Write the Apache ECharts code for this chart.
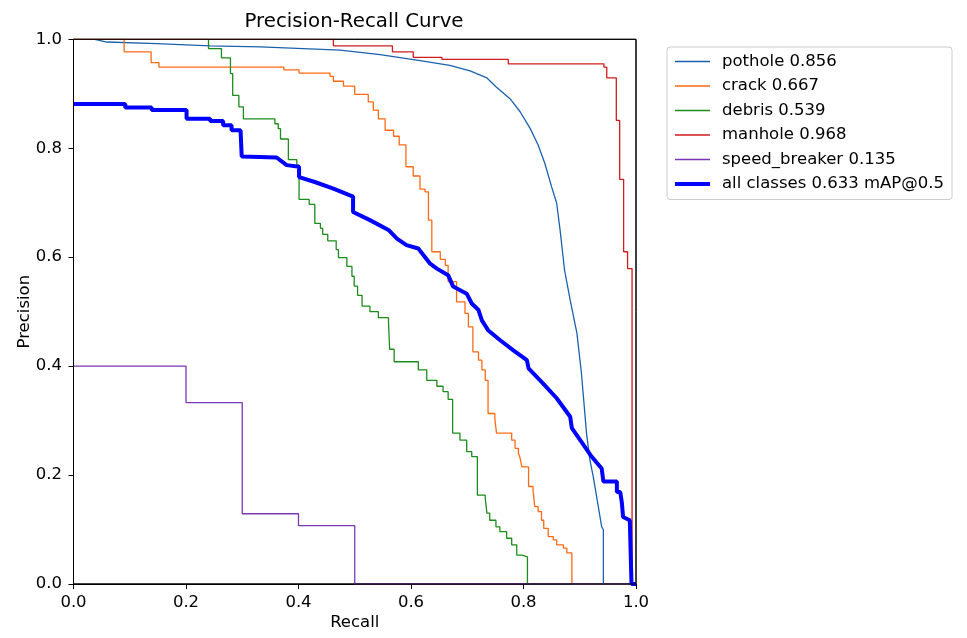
<!DOCTYPE html>
<html>
<head>
<meta charset="utf-8">
<script src="https://cdn.jsdelivr.net/npm/echarts@6/dist/echarts.min.js"></script>
<style>
  html, body { margin: 0; padding: 0; background: #fff; }
  #chart { width: 967px; height: 638px; }
</style>
</head>
<body>
<div id="chart"></div>
<script>
// 各类别的PR曲线 (recall, precision)
var classNames = ["pothole 0.856", "crack 0.667", "debris 0.539", "manhole 0.968", "speed_breaker 0.135", "all classes 0.633 mAP@0.5"];

// pothole 是平滑曲线
var potholeRecall = [0, 0.038, 0.059, 0.148, 0.243, 0.332, 0.474, 0.545, 0.616, 0.669, 0.705, 0.735, 0.752, 0.776, 0.794, 0.812, 0.826, 0.838, 0.850, 0.859, 0.865, 0.873, 0.883, 0.895, 0.903, 0.912, 0.918, 0.924, 0.939, 0.942, 0.942, 1.0];
var potholePrecision = [1, 1, 0.995, 0.992, 0.988, 0.986, 0.980, 0.972, 0.961, 0.952, 0.942, 0.929, 0.912, 0.891, 0.867, 0.836, 0.806, 0.772, 0.729, 0.699, 0.650, 0.576, 0.521, 0.460, 0.387, 0.277, 0.228, 0.197, 0.105, 0.099, 0, 0];

// 以下为阶梯曲线: 每个点 = 该台阶开始的recall和精度
var crackRecall = [0, 0.090, 0.138, 0.152, 0.374, 0.401, 0.456, 0.462, 0.480, 0.500, 0.524, 0.533, 0.542, 0.554, 0.569, 0.579, 0.591, 0.604, 0.616, 0.625, 0.631, 0.637, 0.652, 0.661, 0.666, 0.681, 0.696, 0.702, 0.710, 0.720, 0.726, 0.732, 0.737, 0.749, 0.752, 0.779, 0.785, 0.791, 0.794, 0.797, 0.809, 0.817, 0.820, 0.826, 0.832, 0.836, 0.844, 0.853, 0.859, 0.871, 0.877, 0.886, 1.0];
var crackPrecision = [1, 0.977, 0.957, 0.949, 0.944, 0.938, 0.932, 0.923, 0.914, 0.899, 0.885, 0.870, 0.854, 0.833, 0.822, 0.806, 0.766, 0.749, 0.725, 0.720, 0.668, 0.610, 0.596, 0.585, 0.555, 0.518, 0.497, 0.472, 0.426, 0.411, 0.393, 0.374, 0.313, 0.304, 0.277, 0.264, 0.249, 0.240, 0.231, 0.215, 0.179, 0.172, 0.142, 0.133, 0.117, 0.102, 0.087, 0.081, 0.072, 0.066, 0.057, 0, 0];

var debrisRecall = [0, 0.240, 0.263, 0.279, 0.283, 0.294, 0.302, 0.358, 0.364, 0.368, 0.382, 0.397, 0.401, 0.419, 0.429, 0.439, 0.443, 0.452, 0.467, 0.471, 0.486, 0.495, 0.499, 0.505, 0.513, 0.527, 0.542, 0.560, 0.562, 0.570, 0.613, 0.628, 0.646, 0.657, 0.666, 0.674, 0.687, 0.699, 0.708, 0.718, 0.732, 0.735, 0.740, 0.751, 0.758, 0.770, 0.779, 0.788, 0.797, 0.807, 1.0];
var debrisPrecision = [1, 0.983, 0.966, 0.937, 0.897, 0.876, 0.854, 0.845, 0.836, 0.817, 0.779, 0.769, 0.706, 0.697, 0.662, 0.653, 0.642, 0.630, 0.614, 0.599, 0.583, 0.565, 0.547, 0.530, 0.510, 0.500, 0.489, 0.481, 0.431, 0.408, 0.393, 0.374, 0.363, 0.353, 0.339, 0.277, 0.264, 0.243, 0.234, 0.163, 0.157, 0.130, 0.117, 0.105, 0.096, 0.084, 0.072, 0.053, 0.050, 0, 0];

var manholeRecall = [0, 0.462, 0.567, 0.604, 0.655, 0.773, 0.943, 0.948, 0.965, 0.971, 0.978, 0.985, 0.993, 1.0];
var manholePrecision = [1, 0.988, 0.977, 0.967, 0.963, 0.955, 0.949, 0.929, 0.851, 0.743, 0.610, 0.579, 0, 0];

var speedRecall = [0, 0.2, 0.3, 0.4, 0.5, 1.0];
var speedPrecision = [0.4, 0.333, 0.129, 0.107, 0, 0];

// all classes 平均曲线, 折线 (竖直下降处重复x)
var allRecall = [0, 0.092, 0.092, 0.139, 0.139, 0.201, 0.201, 0.243, 0.243, 0.266, 0.266, 0.281, 0.281, 0.297, 0.299, 0.361, 0.379, 0.401, 0.401, 0.429, 0.462, 0.497, 0.497, 0.527, 0.560, 0.575, 0.592, 0.613, 0.634, 0.646, 0.666, 0.675, 0.699, 0.708, 0.720, 0.726, 0.737, 0.758, 0.782, 0.806, 0.809, 0.835, 0.859, 0.883, 0.886, 0.903, 0.921, 0.939, 0.942, 0.966, 0.966, 0.972, 0.975, 0.977, 0.989, 0.992, 0.992, 1.0];
var allPrecision = [0.881, 0.881, 0.875, 0.875, 0.870, 0.870, 0.854, 0.854, 0.850, 0.850, 0.842, 0.842, 0.833, 0.833, 0.785, 0.783, 0.769, 0.766, 0.747, 0.738, 0.726, 0.711, 0.683, 0.668, 0.650, 0.634, 0.622, 0.616, 0.588, 0.579, 0.567, 0.546, 0.533, 0.515, 0.503, 0.484, 0.466, 0.448, 0.429, 0.411, 0.396, 0.368, 0.341, 0.307, 0.286, 0.261, 0.234, 0.212, 0.188, 0.188, 0.169, 0.169, 0.148, 0.123, 0.117, 0.117, 0, 0];

var colors = ["#1a62ad", "#ff6a14", "#1c8c1c", "#d01c1c", "#7a38b8", "#0000ff"];
var lineWidths = [1.3, 1.3, 1.3, 1.3, 1.3, 4];

var GRID_LEFT = 73.5, GRID_TOP = 39.3, GRID_RIGHT = 331, GRID_BOTTOM = 54;
var FONT = "DejaVu Sans";
var FS = 16.5;

function zip(xs, ys) {
    var out = [];
    for (var i = 0; i < xs.length; i++) {
        out.push([xs[i], ys[i]]);
    }
    return out;
}

function makeSeries(idx, xs, ys, step) {
    return {
        name: classNames[idx],
        type: "line",
        data: zip(xs, ys),
        step: step,
        symbol: "none",
        showSymbol: false,
        lineStyle: { color: colors[idx], width: lineWidths[idx] },
        itemStyle: { color: colors[idx] },
        emphasis: { disabled: true },
        z: 2 + idx
    };
}

// 图例每一项的线宽和曲线一致
var legendData = [];
for (var i = 0; i < classNames.length; i++) {
    legendData.push({ name: classNames[i], lineStyle: { width: lineWidths[i], color: colors[i] } });
}

var myChart = echarts.init(document.getElementById("chart"), null, { renderer: "canvas" });

var option = {
    animation: false,
    backgroundColor: "#ffffff",
    textStyle: { fontFamily: FONT, color: "#000" },
    title: {
        text: "Precision-Recall Curve",
        left: 354,
        textAlign: "center",
        padding: 0,
        top: 12,
        textStyle: { fontFamily: FONT, fontSize: 19.8, fontWeight: "normal", color: "#000" }
    },
    legend: {
        orient: "vertical",
        left: 667,
        top: 47,
        padding: [6, 8, 7, 6],
        itemWidth: 35,
        itemHeight: 14,
        itemGap: 7.5,
        backgroundColor: "#fff",
        borderColor: "#cccccc",
        borderWidth: 1,
        borderRadius: 3,
        data: legendData,
        // 图例只要线段, 不要圆点
        itemStyle: { color: "rgba(0,0,0,0)", borderColor: "rgba(0,0,0,0)", borderWidth: 0, opacity: 0 },
        lineStyle: { width: "inherit" },
        textStyle: { fontFamily: FONT, fontSize: FS, color: "#000", padding: [0, 0, 0, 7] }
    },
    grid: {
        left: GRID_LEFT,
        right: GRID_RIGHT,
        top: GRID_TOP,
        bottom: GRID_BOTTOM,
        show: true,
        borderColor: "#000",
        borderWidth: 1,
        containLabel: false
    },
    xAxis: {
        type: "value",
        min: 0,
        max: 1,
        interval: 0.2,
        name: "Recall",
        nameLocation: "middle",
        nameGap: 30,
        nameMoveOverlap: false,
        nameTextStyle: { fontFamily: FONT, fontSize: FS, color: "#000" },
        axisLine: { show: true, lineStyle: { color: "#000", width: 1 } },
        axisTick: { show: true, length: 5, lineStyle: { color: "#000" } },
        axisLabel: {
            margin: 10, fontFamily: FONT, fontSize: FS, color: "#000",
            formatter: function (v) { return v.toFixed(1); }
        },
        splitLine: { show: false }
    },
    yAxis: {
        type: "value",
        min: 0,
        max: 1,
        interval: 0.2,
        name: "Precision",
        nameLocation: "middle",
        nameGap: 40,
        nameMoveOverlap: false,
        nameTextStyle: { fontFamily: FONT, fontSize: FS, color: "#000" },
        axisLine: { show: true, lineStyle: { color: "#000", width: 1 } },
        axisTick: { show: true, length: 5, lineStyle: { color: "#000" } },
        axisLabel: {
            margin: 11.5, fontFamily: FONT, fontSize: FS, color: "#000",
            formatter: function (v) { return v.toFixed(1); }
        },
        splitLine: { show: false }
    },
    // 外框画在曲线上面
    graphic: [{
        type: "rect",
        z: 100,
        silent: true,
        shape: { x: GRID_LEFT, y: GRID_TOP, width: 967 - GRID_LEFT - GRID_RIGHT, height: 638 - GRID_TOP - GRID_BOTTOM },
        style: { fill: null, stroke: "#000", lineWidth: 1 }
    }],
    series: [
        makeSeries(0, potholeRecall, potholePrecision, false),
        makeSeries(1, crackRecall, crackPrecision, "end"),
        makeSeries(2, debrisRecall, debrisPrecision, "end"),
        makeSeries(3, manholeRecall, manholePrecision, "end"),
        makeSeries(4, speedRecall, speedPrecision, "end"),
        makeSeries(5, allRecall, allPrecision, false)
    ]
};

myChart.setOption(option);
</script>
</body>
</html>
